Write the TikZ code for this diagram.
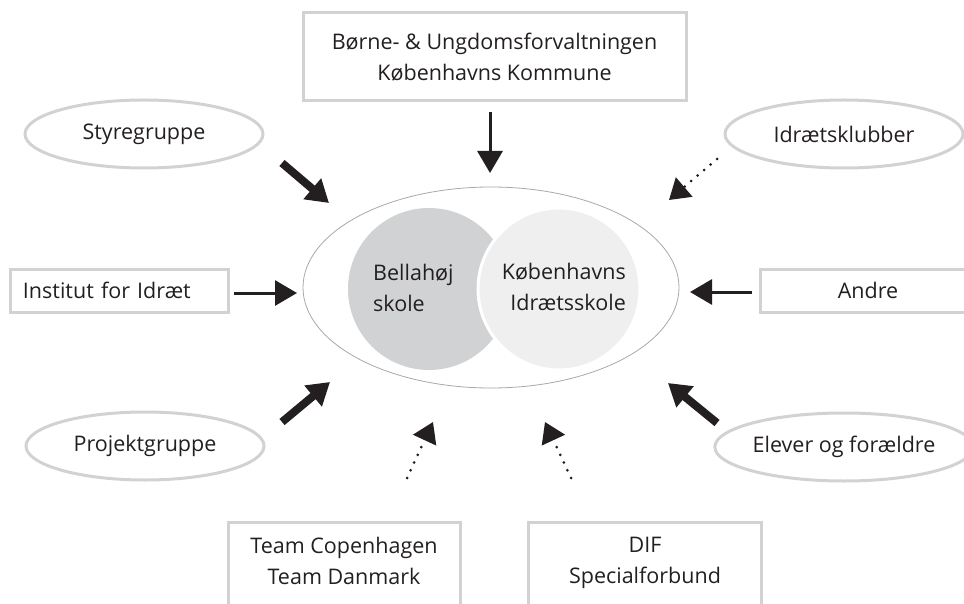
\documentclass[tikz,border=0pt]{standalone}
\usepackage{fontspec}
\setmainfont{Open Sans}
\usetikzlibrary{arrows.meta,shapes.geometric}
\definecolor{boxgray}{HTML}{D2D2D2}
\definecolor{leftfill}{HTML}{D1D2D4}
\definecolor{rightfill}{HTML}{EFEFEF}
\definecolor{ink}{HTML}{231F20}
\definecolor{rimgray}{HTML}{A8A8A8}
\begin{document}
\begin{tikzpicture}[x=1pt,y=-1pt,
  font=\fontsize{21.5}{31}\selectfont, text=ink,
  graybox/.style={draw=boxgray, line width=3pt, rectangle, inner sep=0pt},
  grayell/.style={draw=boxgray, line width=3pt, ellipse, inner sep=0pt,
    minimum width=238, minimum height=68},
  txt/.style={inner sep=0pt, align=center},
  bigarrow/.style={draw=ink, line width=8pt, -{Triangle[length=22pt,width=26pt]}},
  thinarrow/.style={draw=ink, line width=3pt, -{Triangle[length=22pt,width=25pt]}},
  dotarrow/.style={draw=ink, line width=3pt, line cap=round,
    dash pattern=on 0pt off 8.5pt, -{Triangle[length=20pt,width=25pt]}}]
\useasboundingbox (0,0) rectangle (964,604);

% centre
\node[ellipse, draw=rimgray, line width=0.8pt, inner sep=0pt,
  minimum width=376, minimum height=201] (schools) at (491,287.5) {};
\node[circle, fill=leftfill, inner sep=0pt, minimum size=162] (bella) at (429,289) {};
\node[circle, fill=rightfill, draw=white, line width=3pt, inner sep=0pt,
  minimum size=162] (kis) at (559,289) {};
\node[inner sep=0pt, align=left, anchor=north west] (bellatxt) at (373,263.5) {Bellahøj\\skole};
\node[inner sep=0pt, align=right, anchor=north east] (kistxt) at (626,262.5) {Københavns\\Idrætsskole};

% surrounding actors
\node[graybox, minimum width=383, minimum height=88, align=center] (buf) at (494.5,57)
  {Børne- \& Ungdomsforvaltningen\\Københavns Kommune};
\node[grayell] (styre) at (144,134) {Styregruppe};
\node[grayell] (klub) at (844,134) {Idrætsklubber};
\node[grayell] (projekt) at (145,446) {Projektgruppe};
\node[grayell] (elever) at (844,447) {Elever og forældre};
\node[graybox, minimum width=218, minimum height=43, text width=192, inner xsep=13pt,
  align=left] (inst) at (119,290.5) {Institut for Idræt};
\node[graybox, minimum width=216, minimum height=43, align=center] (andre) at (868,290.5) {Andre};
\node[graybox, anchor=north, minimum width=232, minimum height=110] (team) at (344,521) {};
\node[txt, anchor=north] (teamtxt) at (344,536.7) {Team Copenhagen\\Team Danmark};
\node[graybox, anchor=north, minimum width=233, minimum height=110] (dif) at (644.5,521) {};
\node[txt, anchor=north] (diftxt) at (645,536.7) {DIF\\Specialforbund};

% arrow end points
\coordinate (bufA) at (490,112);   \coordinate (bufB) at (490,173);
\coordinate (styA) at (282,163);   \coordinate (styB) at (329,203);
\coordinate (klubA) at (717,159);  \coordinate (klubB) at (669,200);
\coordinate (instA) at (234,293);  \coordinate (instB) at (297,293);
\coordinate (andA) at (752,292);   \coordinate (andB) at (690,292);
\coordinate (proA) at (282,422);   \coordinate (proB) at (330,382);
\coordinate (elA) at (717,423);    \coordinate (elB) at (668,383);
\coordinate (teamA) at (407,478);  \coordinate (teamB) at (433,422);
\coordinate (difA) at (571,478);   \coordinate (difB) at (545,422);

\draw[thinarrow] (bufA) -- (bufB);
\draw[bigarrow] (styA) -- (styB);
\draw[dotarrow] (klubA) -- (klubB);
\draw[thinarrow] (instA) -- (instB);
\draw[thinarrow] (andA) -- (andB);
\draw[bigarrow] (proA) -- (proB);
\draw[bigarrow] (elA) -- (elB);
\draw[dotarrow] (teamA) -- (teamB);
\draw[dotarrow] (difA) -- (difB);
\end{tikzpicture}
\end{document}
